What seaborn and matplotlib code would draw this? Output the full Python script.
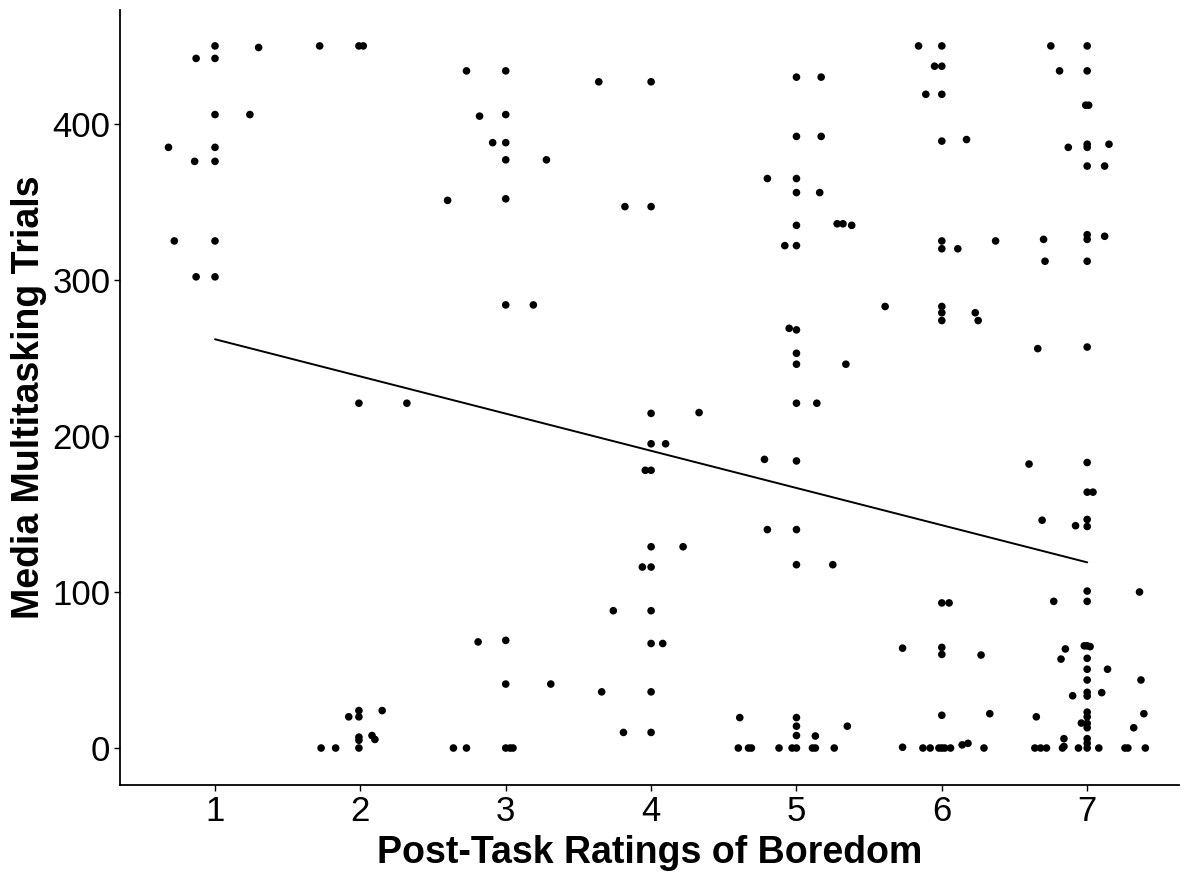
import numpy as np
import pandas as pd
import matplotlib
matplotlib.use("Agg")
import matplotlib.pyplot as plt
import seaborn as sns

# jittered points (boredom rating, trials)
boredom = [
    # around 1
    1.00, 1.30, 0.87, 1.00, 1.00, 1.24, 0.68, 1.00, 0.86, 1.00, 0.72, 1.00, 0.87, 1.00,
    # around 2
    1.72, 1.99, 2.02, 1.99, 2.32, 1.99, 2.15, 1.92, 1.99, 1.99, 1.99, 2.08, 2.10, 1.73, 1.83, 1.99,
    # around 3
    2.73, 3.00, 2.82, 3.00, 2.91, 3.00, 3.00, 3.28, 2.60, 3.00, 3.00, 3.19, 2.81, 3.00, 3.00, 3.31,
    2.64, 2.73, 3.00, 3.03, 3.05,
    # around 4
    3.64, 4.00, 3.82, 4.00, 4.00, 4.33, 4.00, 4.10, 3.96, 4.00, 4.00, 4.22, 3.94, 4.00, 3.74, 4.00,
    4.00, 4.08, 3.66, 4.00, 3.81, 4.00,
    # around 5
    5.00, 5.17, 5.00, 5.17, 4.80, 5.00, 5.00, 5.16, 5.00, 5.28, 5.32, 5.38, 4.92, 5.00, 4.95, 5.00,
    5.00, 5.00, 5.34, 5.00, 5.14, 4.78, 5.00, 4.80, 5.00, 5.00, 5.25, 4.61, 5.00, 5.00, 5.00, 5.13,
    5.35, 4.60, 4.67, 4.69, 4.88, 4.97, 5.00, 5.11, 5.13, 5.26,
    # around 6
    5.84, 6.00, 5.95, 6.00, 5.89, 6.00, 6.00, 6.17, 5.61, 6.00, 6.00, 6.11, 6.37, 6.00, 6.00, 6.00,
    6.23, 6.25, 5.73, 6.00, 6.05, 6.00, 6.00, 6.27, 6.00, 6.33, 5.73, 5.87, 5.92, 5.98, 6.00, 6.02,
    6.06, 6.14, 6.18, 6.29,
    # around 7
    6.75, 7.00, 6.81, 7.00, 6.99, 7.01, 6.87, 7.00, 7.00, 7.15, 7.00, 7.12, 6.70, 7.00, 7.00, 7.12,
    6.71, 7.00, 6.66, 7.00, 6.60, 7.00, 7.00, 7.04, 6.69, 6.92, 7.00, 7.00, 7.00, 7.36, 6.77, 7.00,
    6.85, 6.82, 6.98, 7.00, 7.02, 7.00, 7.00, 7.14, 7.00, 7.37, 7.00, 7.00, 6.90, 7.10, 6.65, 7.00,
    7.00, 6.96, 7.00, 7.00, 7.39, 7.32, 6.84, 6.84, 7.00, 7.00, 6.64, 6.68, 6.72, 6.83, 6.94, 7.00,
    7.08, 7.26, 7.28, 7.40,
]
trials = [
    # around 1
    450, 449, 442, 442, 406, 406, 385, 385, 376, 376, 325, 325, 302, 302,
    # around 2
    450, 450, 450, 221, 221, 24, 24, 20, 20, 7, 5, 8, 5.5, 0, 0, 0,
    # around 3
    434, 434, 405, 406, 388, 388, 377, 377, 351, 352, 284, 284, 68, 69, 41, 41,
    0, 0, 0, 0, 0,
    # around 4
    427, 427, 347, 347, 214.5, 215, 195, 195, 178, 178, 129, 129, 116, 116, 88, 88,
    67, 67, 36, 36, 10, 10,
    # around 5
    430, 430, 392, 392, 365, 365, 356, 356, 335, 336, 336, 335, 322, 322, 269, 268,
    253, 246, 246, 221, 221, 185, 184, 140, 140, 117.5, 117.5, 19.5, 19.5, 14, 8, 7.7,
    14, 0, 0, 0, 0, 0, 0, 0, 0, 0,
    # around 6
    450, 450, 437, 437, 419, 419, 389, 390, 283, 325, 320, 320, 325, 283, 279, 274,
    279, 274, 64, 93, 93, 64.5, 60, 59.6, 21, 22, 0.5, 0, 0, 0, 0, 0,
    0, 2, 3, 0,
    # around 7
    450, 450, 434, 434, 412, 412, 385, 387, 385, 387, 373, 373, 326, 329, 326, 328,
    312, 312, 256, 257, 182, 183, 164, 164, 146, 142.5, 146.5, 142, 100.6, 100, 94, 94,
    63.5, 57, 65.5, 65.5, 65, 57.5, 50.5, 50.5, 43.6, 43.6, 35.7, 33.3, 33.5, 35.5, 20, 23,
    20, 16, 15.8, 13, 22, 13, 6, 1, 6, 3, 0, 0, 0, 0, 0, 0,
    0, 0, 0, 0,
]

# linear fit line as drawn in the chart
fit_x = [1, 7]
fit_y = [262, 119]

x_ticks = [1, 2, 3, 4, 5, 6, 7]
y_ticks = [0, 100, 200, 300, 400]

df = pd.DataFrame({"boredom": boredom, "trials": trials})

sns.set_style("ticks")
plt.rcParams["font.family"] = ["Liberation Sans", "DejaVu Sans"]

fig = plt.figure(figsize=(11.89, 8.73), dpi=100)
ax = fig.add_axes([0.101, 0.1008, 0.891, 0.8877])

sns.scatterplot(data=df, x="boredom", y="trials", color="black", s=30,
                edgecolor="none", ax=ax)
sns.lineplot(x=fit_x, y=fit_y, color="black", linewidth=1.4, ax=ax)

ax.set_xlim(0.347, 7.635)
ax.set_ylim(-23.7, 473)
ax.set_xticks(x_ticks)
ax.set_yticks(y_ticks)
ax.tick_params(axis="both", labelsize=25, length=4, width=1, color="black",
               labelcolor="black", pad=3)
for side in ["left", "bottom"]:
    ax.spines[side].set_linewidth(1.3)
    ax.spines[side].set_color("black")
sns.despine(ax=ax)

ax.set_xlabel("Post-Task Ratings of Boredom", fontsize=27, fontweight="bold",
              labelpad=5, color="black")
ax.set_ylabel("Media Multitasking Trials", fontsize=27, fontweight="bold",
              labelpad=4, color="black")

plt.savefig("out.png", dpi=100)
